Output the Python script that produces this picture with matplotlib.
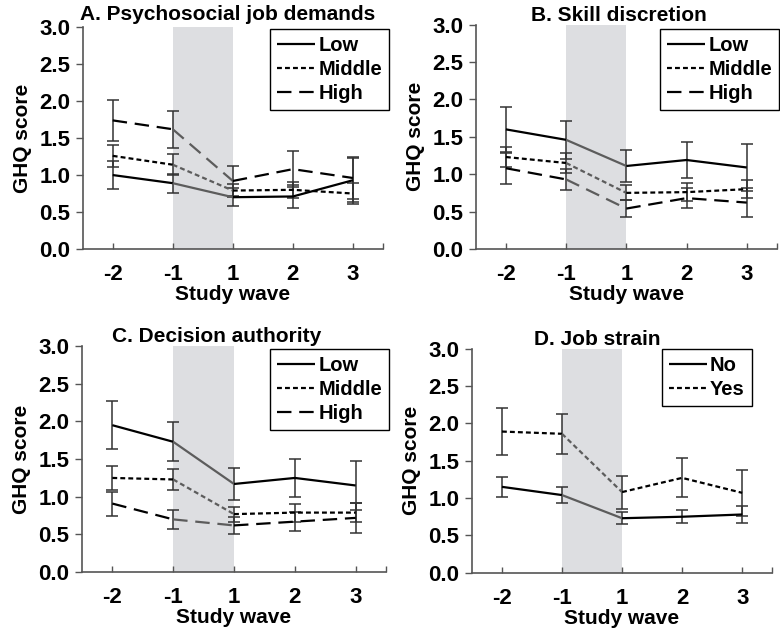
import numpy as np
import matplotlib
matplotlib.use('Agg')
import matplotlib.pyplot as plt

plt.rcParams['font.family'] = ['Liberation Sans', 'DejaVu Sans']
plt.rcParams['font.weight'] = 'bold'
plt.rcParams['axes.labelweight'] = 'bold'
plt.rcParams['font.size'] = 14

waves = ['-2', '-1', '1', '2', '3']

# A. Psychosocial job demands
a_names = ['Low', 'Middle', 'High']
a_means = [[1.00, 0.89, 0.70, 0.71, 0.93],
           [1.26, 1.14, 0.79, 0.80, 0.75],
           [1.74, 1.62, 0.92, 1.08, 0.96]]
a_errs = [[0.19, 0.13, 0.12, 0.16, 0.30],
          [0.15, 0.14, 0.09, 0.11, 0.14],
          [0.28, 0.25, 0.20, 0.24, 0.29]]

# B. Skill discretion
b_names = ['Low', 'Middle', 'High']
b_means = [[1.60, 1.46, 1.11, 1.19, 1.09],
           [1.23, 1.15, 0.75, 0.76, 0.80],
           [1.08, 0.93, 0.54, 0.68, 0.62]]
b_errs = [[0.30, 0.25, 0.22, 0.24, 0.32],
          [0.13, 0.13, 0.10, 0.12, 0.12],
          [0.21, 0.14, 0.11, 0.13, 0.19]]

# C. Decision authority
c_names = ['Low', 'Middle', 'High']
c_means = [[1.95, 1.73, 1.17, 1.25, 1.15],
           [1.25, 1.23, 0.77, 0.79, 0.79],
           [0.91, 0.70, 0.62, 0.67, 0.72]]
c_errs = [[0.32, 0.26, 0.21, 0.25, 0.33],
          [0.16, 0.14, 0.10, 0.12, 0.13],
          [0.16, 0.13, 0.11, 0.13, 0.20]]

# D. Job strain
d_names = ['No', 'Yes']
d_means = [[1.15, 1.04, 0.73, 0.75, 0.78],
           [1.89, 1.86, 1.08, 1.27, 1.07]]
d_errs = [[0.13, 0.11, 0.08, 0.09, 0.12],
          [0.32, 0.27, 0.22, 0.26, 0.31]]

styles = {'Low': (None,), 'Middle': (2.2, 1.4), 'High': (6.5, 3.5),
          'No': (None,), 'Yes': (2.2, 1.4)}

panels = [
    ('A. Psychosocial job demands', a_names, a_means, a_errs,
     [0.106, 0.608, 0.385, 0.349], 0.483, 5, (0.499, 0.954)),
    ('B. Skill discretion', b_names, b_means, b_errs,
     [0.610, 0.608, 0.386, 0.353], 0.475, 2, (0.999, 0.954)),
    ('C. Decision authority', c_names, c_means, c_errs,
     [0.105, 0.099, 0.390, 0.356], 0.443, 0.5, (0.499, 0.450)),
    ('D. Job strain', d_names, d_means, d_errs,
     [0.605, 0.098, 0.385, 0.353], 0.417, 2.5, (0.964, 0.450)),
]

fig = plt.figure(figsize=(7.8, 6.35), dpi=100)
lw = 1.6
gray = '#5c5c5c'
x = np.arange(len(waves))

for title, names, means, errs, pos, tx, tpad, lpos in panels:
    ax = fig.add_axes(pos)
    ax.axvspan(1, 2, color='#dddee1', zorder=0, lw=0)
    handles = []
    for name, m, e in zip(names, means, errs):
        d = styles[name]
        kw = dict(lw=lw, solid_capstyle='butt', dash_capstyle='butt')
        if d[0] is not None:
            kw['dashes'] = d
        ax.errorbar(x, m, yerr=e, fmt='none', ecolor='#333333',
                    elinewidth=1.1, capsize=4, capthick=1.1, zorder=2)
        h, = ax.plot(x[:2], m[:2], color='black', zorder=3, **kw)
        ax.plot(x[1:3], m[1:3], color=gray, zorder=3, **kw)
        ax.plot(x[2:], m[2:], color='black', zorder=3, **kw)
        handles.append(h)

    ax.set_xlim(-0.5, 4.5)
    ax.set_ylim(0, 3.0)
    ax.set_xticks(x)
    ax.set_xticklabels(waves)
    ax.set_xticks([4.5], minor=True)
    ax.set_yticks(np.arange(0, 3.01, 0.5))
    ax.set_yticklabels(['%.1f' % v for v in np.arange(0, 3.01, 0.5)])
    ax.tick_params(axis='x', which='both', direction='in', length=4,
                   width=1, color='#555555', pad=11, labelsize=16)
    ax.tick_params(axis='y', direction='out', length=5, width=1,
                   color='#555555', pad=4, labelsize=16)
    for s in ['top', 'right']:
        ax.spines[s].set_visible(False)
    for s in ['left', 'bottom']:
        ax.spines[s].set_color('#555555')
        ax.spines[s].set_linewidth(1.2)

    ax.set_xlabel('Study wave', labelpad=0, fontsize=15)
    ax.set_ylabel('GHQ score', labelpad=5, fontsize=15)
    ax.set_title(title, x=tx, pad=tpad, fontweight='bold', fontsize=15)

    leg = ax.legend(handles, names, loc='upper right',
                    bbox_to_anchor=lpos, bbox_transform=fig.transFigure,
                    borderaxespad=0, fancybox=False, framealpha=1,
                    edgecolor='black', handlelength=1.9, handletextpad=0.15,
                    labelspacing=0.25, borderpad=0.35, fontsize=14.5)
    leg.get_frame().set_linewidth(1.0)

fig.savefig('out.png', dpi=100)
